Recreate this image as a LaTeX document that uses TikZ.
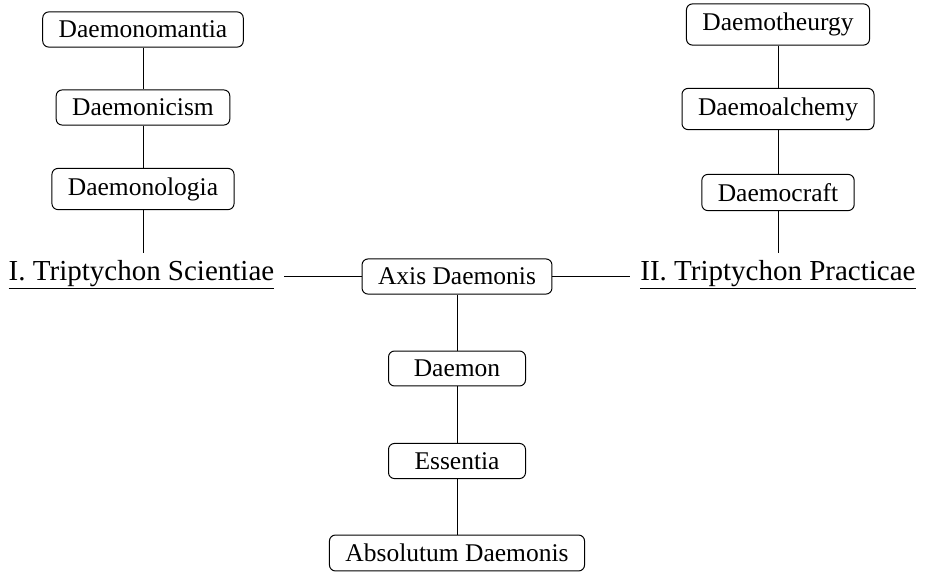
\documentclass[tikz,border=0pt]{standalone}
\usepackage{fontspec}
\setmainfont{Liberation Serif}
\begin{document}
\begin{tikzpicture}[x=1pt,y=-1pt,
  box/.style={draw, rounded corners=6pt, line width=1pt, inner xsep=16pt, inner ysep=9pt,
    font=\fontsize{25.5}{30}\selectfont},
  minbox/.style={box, minimum width=137pt},
  title/.style={inner xsep=10pt, inner ysep=8pt, font=\fontsize{29}{34}\selectfont},
  link/.style={line width=1pt}]
\useasboundingbox (0,0) rectangle (927,573);
% left column
\node[box] (dm) at (143,29.5) {Daemonomantia};
\node[box] (dc) at (143,107.5) {Daemonicism};
\node[box] (dl) at (143,189) {Daemonologia};
\node[title] (ts) at (141.5,275) {\underline{I. Triptychon Scientiae}};
% right column
\node[box] (dt) at (778,24.5) {Daemotheurgy};
\node[box] (da) at (778,109) {Daemoalchemy};
\node[box] (dr) at (778,192.5) {Daemocraft};
\node[title] (tp) at (778,275) {\underline{II. Triptychon Practicae}};
% center
\node[box] (ax) at (457,276.5) {Axis Daemonis};
\node[minbox] (de) at (457,368.5) {Daemon};
\node[minbox] (es) at (457,461) {Essentia};
\node[box] (ab) at (457,553) {Absolutum Daemonis};
% links
\draw[link] (dm) -- (dc);
\draw[link] (dc) -- (dl);
\draw[link] (dl.south) -- (dl.south |- ts.north);
\draw[link] (dt) -- (da);
\draw[link] (da) -- (dr);
\draw[link] (dr.south) -- (dr.south |- tp.north);
\draw[link] (ts.east |- ax.west) -- (ax.west);
\draw[link] (ax.east) -- (tp.west |- ax.east);
\draw[link] (ax) -- (de);
\draw[link] (de) -- (es);
\draw[link] (es) -- (ab);
\end{tikzpicture}
\end{document}
